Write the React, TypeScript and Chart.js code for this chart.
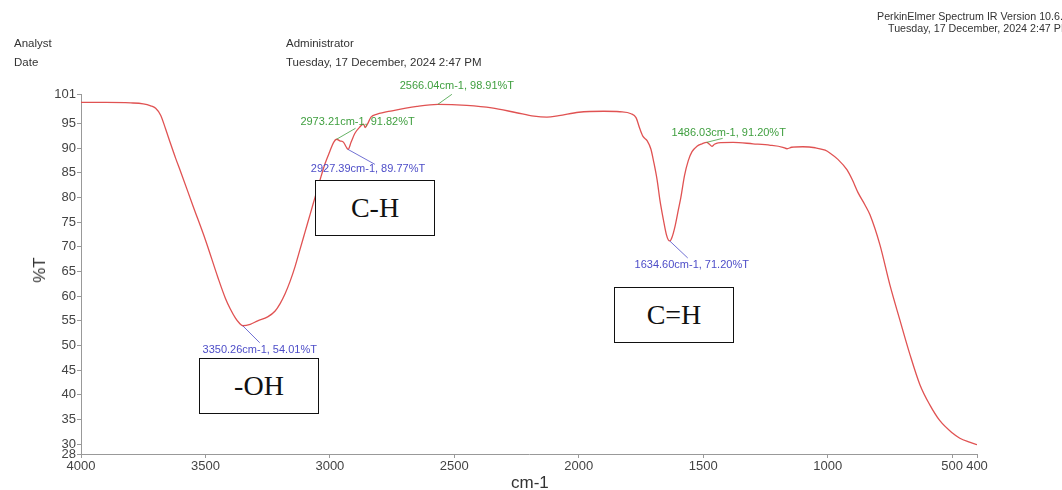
import React, { useEffect, useRef } from "react";
import { Chart, registerables } from "chart.js";

Chart.register(...registerables);

// ---- Data ----
const wavenumbers = [
  4000, 3900, 3800, 3750, 3720, 3700, 3680, 3660, 3640, 3620, 3600, 3550, 3500, 3450, 3420, 3400, 3380,
  3365, 3350, 3320, 3290, 3250, 3220, 3200, 3180, 3160, 3140, 3120, 3100, 3080, 3060, 3040, 3020, 3000,
  2985, 2973, 2960, 2945, 2935, 2927, 2915, 2900, 2880, 2865, 2858, 2848, 2835, 2810, 2750, 2650, 2566,
  2450, 2350, 2250, 2180, 2128, 2080, 2000, 1900, 1835, 1790, 1770, 1755, 1742, 1725, 1710, 1700, 1685,
  1674, 1660, 1648, 1640, 1634, 1625, 1614, 1600, 1590, 1575, 1560, 1545, 1525, 1505, 1486, 1475, 1465,
  1455, 1440, 1380, 1300, 1230, 1180, 1163, 1145, 1100, 1050, 1010, 990, 960, 922, 900, 878, 850, 830,
  790, 750, 710, 669, 629, 589, 550, 500, 469, 430, 400,
];
const transmittance = [
  99.3, 99.3, 99.2, 99.0, 98.6, 98.1, 96.7, 93.9, 90.9, 88.0, 85.3, 78.3, 71.4, 63.8, 59.6, 57.4, 55.6,
  54.6, 54.01, 54.3, 55.0, 55.8, 57.0, 58.5, 60.5, 63.0, 66.0, 69.5, 73.0, 76.5, 80.0, 83.5, 86.8, 89.4,
  91.2, 91.82, 91.5, 91.2, 90.3, 89.77, 91.2, 93.0, 94.3, 94.9, 94.2, 95.0, 96.3, 96.9, 97.6, 98.5, 98.91,
  98.7, 98.2, 97.2, 96.5, 96.3, 96.6, 97.3, 97.5, 97.4, 97.0, 96.2, 94.0, 92.4, 91.5, 89.8, 87.5, 83.5,
  79.5, 75.5, 72.5, 71.4, 71.2, 72.0, 74.0, 77.5, 80.0, 84.5, 87.5, 89.3, 90.4, 90.9, 91.2, 90.8, 90.4,
  90.8, 91.1, 91.2, 90.9, 90.6, 90.2, 89.9, 90.2, 90.3, 90.1, 89.6, 89.0, 87.8, 85.6, 83.5, 81.0, 78.5,
  76.5, 70.4, 62.3, 55.2, 48.1, 42.0, 37.9, 34.8, 32.3, 31.2, 30.4, 29.9,
];
const xTickValues = [4000, 3500, 3000, 2500, 2000, 1500, 1000, 500, 400];
const yTickValues = [28, 30, 35, 40, 45, 50, 55, 60, 65, 70, 75, 80, 85, 90, 95, 101];

const peakWavenumbers = [2566.04, 2973.21, 2927.39, 1486.03, 1634.6, 3350.26];
const peakValues = [98.91, 91.82, 89.77, 91.2, 71.2, 54.01];
const peakLabels = [
  "2566.04cm-1, 98.91%T",
  "2973.21cm-1, 91.82%T",
  "2927.39cm-1, 89.77%T",
  "1486.03cm-1, 91.20%T",
  "1634.60cm-1, 71.20%T",
  "3350.26cm-1, 54.01%T",
];
const peakKinds = ["max", "max", "min", "max", "min", "min"];

const groupLabels = ["C-H", "-OH", "C=H"];

// ---- layout / style (not data) ----
const GREEN = "#3f9f3f";
const BLUE = "#4d4dc8";
const labelLayout = [
  { dx: 19, dy: -18, lx: 14, ly: -10 },
  { dx: 21, dy: -17, lx: 19, ly: -11 },
  { dx: 20, dy: 20, lx: 27, ly: 15 },
  { dx: 22, dy: -9, lx: 16, ly: -4 },
  { dx: 22, dy: 24, lx: 18, ly: 17 },
  { dx: 17, dy: 24, lx: 17, ly: 17 },
];
const boxLayout = [
  { left: 315, top: 180 },
  { left: 199, top: 358 },
  { left: 614, top: 287 },
];

const FONT = "'Liberation Sans', Arial, sans-serif";

const peakPlugin = {
  id: "peakLabels",
  afterDatasetsDraw(chart: any) {
    const { ctx, scales } = chart;
    const xs = scales.x;
    const ys = scales.y;
    ctx.save();
    ctx.font = `11px ${FONT}`;
    ctx.textAlign = "center";
    ctx.textBaseline = "middle";
    peakWavenumbers.forEach((w, i) => {
      const px = xs.getPixelForValue(w);
      const py = ys.getPixelForValue(peakValues[i]);
      const lay = labelLayout[i];
      const color = peakKinds[i] === "max" ? GREEN : BLUE;
      ctx.strokeStyle = color;
      ctx.lineWidth = 0.8;
      ctx.beginPath();
      ctx.moveTo(px, py);
      ctx.lineTo(px + lay.lx, py + lay.ly);
      ctx.stroke();
      ctx.fillStyle = color;
      ctx.fillText(peakLabels[i], px + lay.dx, py + lay.dy);
    });
    ctx.restore();
  },
};

export default function App() {
  const canvasRef = useRef<HTMLCanvasElement | null>(null);

  useEffect(() => {
    if (!canvasRef.current) return;
    const chart = new Chart(canvasRef.current, {
      type: "line",
      data: {
        datasets: [
          {
            data: wavenumbers.map((w, i) => ({ x: w, y: transmittance[i] })),
            borderColor: "#e05252",
            borderWidth: 1.3,
            pointRadius: 0,
            fill: false,
            cubicInterpolationMode: "monotone",
          },
        ],
      },
      options: {
        animation: false,
        responsive: true,
        maintainAspectRatio: false,
        layout: { padding: { top: 94, right: 85, left: 0, bottom: 0 } },
        plugins: { legend: { display: false }, tooltip: { enabled: false } },
        scales: {
          x: {
            type: "linear",
            reverse: true,
            min: 400,
            max: 4000,
            afterBuildTicks: (s: any) => {
              s.ticks = xTickValues.map((v) => ({ value: v }));
            },
            afterFit: (s: any) => {
              s.height = 36;
            },
            ticks: {
              autoSkip: false,
              maxRotation: 0,
              minRotation: 0,
              color: "#444",
              font: { family: FONT, size: 13 },
              padding: 1,
              callback: (v: any) => String(v),
            },
            grid: { drawOnChartArea: false, tickLength: 4, color: "#999" },
            border: { color: "#999" },
          },
          y: {
            type: "linear",
            min: 28,
            max: 101,
            afterBuildTicks: (s: any) => {
              s.ticks = yTickValues.map((v) => ({ value: v }));
            },
            afterFit: (s: any) => {
              s.width = 81;
            },
            ticks: {
              autoSkip: false,
              color: "#444",
              font: { family: FONT, size: 13 },
              padding: 1,
              callback: (v: any) => String(v),
            },
            grid: { drawOnChartArea: false, tickLength: 4, color: "#999" },
            border: { color: "#999" },
          },
        },
      },
      plugins: [peakPlugin],
    } as any);
    return () => chart.destroy();
  }, []);

  const txt = (
    s: string,
    left: number,
    cy: number,
    size: number,
    extra: React.CSSProperties = {}
  ) => (
    <div
      style={{
        position: "absolute",
        left,
        top: cy - size / 2,
        fontSize: size,
        lineHeight: `${size}px`,
        fontFamily: FONT,
        color: "#333",
        whiteSpace: "nowrap",
        ...extra,
      }}
    >
      {s}
    </div>
  );

  return (
    <div
      style={{
        position: "fixed",
        left: 0,
        top: 0,
        width: 1062,
        height: 490,
        overflow: "hidden",
        background: "#fff",
      }}
    >
      <div style={{ position: "absolute", left: 0, top: 0, width: 1062, height: 490 }}>
        <canvas ref={canvasRef} />
      </div>
      {txt("Analyst", 14, 44, 11.5)}
      {txt("Date", 14, 63, 11.5)}
      {txt("Administrator", 286, 44, 11.5)}
      {txt("Tuesday, 17 December, 2024 2:47 PM", 286, 63, 11.5)}
      {txt("PerkinElmer Spectrum IR Version 10.6.", 877, 16, 10.7)}
      {txt("Tuesday, 17 December, 2024 2:47 PM", 888, 28, 10.7)}
      {txt("cm-1", 511, 482, 17)}
      <div
        style={{
          position: "absolute",
          left: 40,
          top: 270,
          transform: "translate(-50%, -50%) rotate(-90deg)",
          fontSize: 17,
          fontFamily: FONT,
          color: "#333",
          whiteSpace: "nowrap",
        }}
      >
        %T
      </div>
      {groupLabels.map((g, i) => (
        <div
          key={g}
          style={{
            position: "absolute",
            left: boxLayout[i].left,
            top: boxLayout[i].top,
            width: 118,
            height: 54,
            border: "1px solid #111",
            background: "#fff",
            display: "flex",
            alignItems: "center",
            justifyContent: "center",
            fontFamily: "'Liberation Serif', 'Times New Roman', serif",
            fontSize: 28,
            color: "#111",
          }}
        >
          {g}
        </div>
      ))}
    </div>
  );
}
